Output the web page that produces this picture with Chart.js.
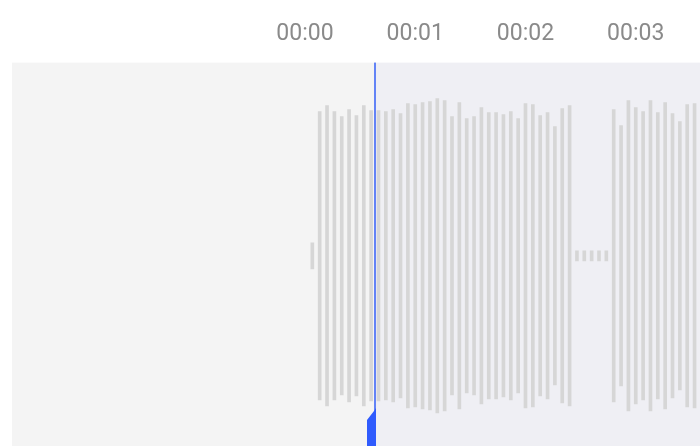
<!DOCTYPE html>
<html>
<head>
<meta charset="utf-8">
<script src="https://cdn.jsdelivr.net/npm/chart.js@4.4.1/dist/chart.umd.min.js"></script>
<style>
  html, body { margin: 0; padding: 0; background: #ffffff; }
  #wrap { width: 700px; height: 446px; }
</style>
</head>
<body>
<div id="wrap"><canvas id="wave"></canvas></div>
<script>
// Waveform data: one peak value per bin, 15 bins per second
const binsPerSecond = 15;
const firstBin = 1;
const peaks = [
  13, 144, 150, 144, 139, 146, 140, 150, 145, 145,
  144, 146, 142, 152, 151, 153, 154, 157, 155, 139,
  153, 137, 139, 148, 143, 143, 141, 144, 137, 152,
  151, 140, 143, 129, 147, 150, 5, 5, 5, 5,
  5, 146, 130, 155, 148, 144, 155, 143, 153, 142,
  134, 151, 152
];
const tickSeconds = [0, 1, 2, 3];
const tickLabels = ['00:00', '00:01', '00:02', '00:03'];
const playheadBin = 9.52;

const waveData = peaks.map((p, i) => ({ x: firstBin + i, y: [-p, p] }));

// Backgrounds split at the playhead + playhead line/handle
const playheadPlugin = {
  id: 'playhead',
  beforeDraw(chart) {
    const { ctx, chartArea } = chart;
    const px = Math.round(chart.scales.x.getPixelForValue(playheadBin));
    ctx.save();
    ctx.fillStyle = '#f4f4f4';
    ctx.fillRect(chartArea.left, chartArea.top, px - chartArea.left, chartArea.bottom - chartArea.top);
    ctx.fillStyle = '#efeff4';
    ctx.fillRect(px, chartArea.top, chartArea.right - px, chartArea.bottom - chartArea.top);
    ctx.restore();
  },
  afterDatasetsDraw(chart) {
    const { ctx, chartArea } = chart;
    const px = Math.round(chart.scales.x.getPixelForValue(playheadBin));
    ctx.save();
    ctx.fillStyle = '#6383f6';
    ctx.fillRect(px - 1, chartArea.top, 2, chartArea.bottom - chartArea.top);
    // handle at the bottom
    ctx.fillStyle = '#2f5bfd';
    ctx.beginPath();
    ctx.moveTo(px + 1, chartArea.bottom - 38);
    ctx.lineTo(px + 1, chartArea.bottom);
    ctx.lineTo(px - 8, chartArea.bottom);
    ctx.lineTo(px - 8, chartArea.bottom - 26);
    ctx.lineTo(px - 1, chartArea.bottom - 35);
    ctx.closePath();
    ctx.fill();
    ctx.restore();
  }
};

new Chart(document.getElementById('wave'), {
  type: 'bar',
  data: {
    datasets: [{
      data: waveData,
      backgroundColor: '#d6d6d6',
      borderWidth: 0,
      barThickness: 3
    }]
  },
  options: {
    responsive: true,
    maintainAspectRatio: false,
    animation: false,
    layout: { padding: { left: 12, right: 0, top: 5, bottom: 0 } },
    plugins: {
      legend: { display: false },
      tooltip: { enabled: false }
    },
    scales: {
      x: {
        type: 'linear',
        position: 'top',
        offset: false,
        min: -39.86,
        max: 53.74,
        grid: { display: false, drawTicks: false, offset: false },
        border: { display: false },
        afterBuildTicks(scale) {
          scale.ticks = tickSeconds.map(s => ({ value: s * binsPerSecond }));
        },
        ticks: {
          autoSkip: false,
          maxRotation: 0,
          padding: 15,
          color: '#8a8a8a',
          font: { family: 'Roboto', size: 23 },
          callback: (v) => tickLabels[tickSeconds.indexOf(v / binsPerSecond)] ?? ''
        }
      },
      y: {
        display: false,
        min: -190,
        max: 193
      }
    }
  },
  plugins: [playheadPlugin]
});
</script>
</body>
</html>
